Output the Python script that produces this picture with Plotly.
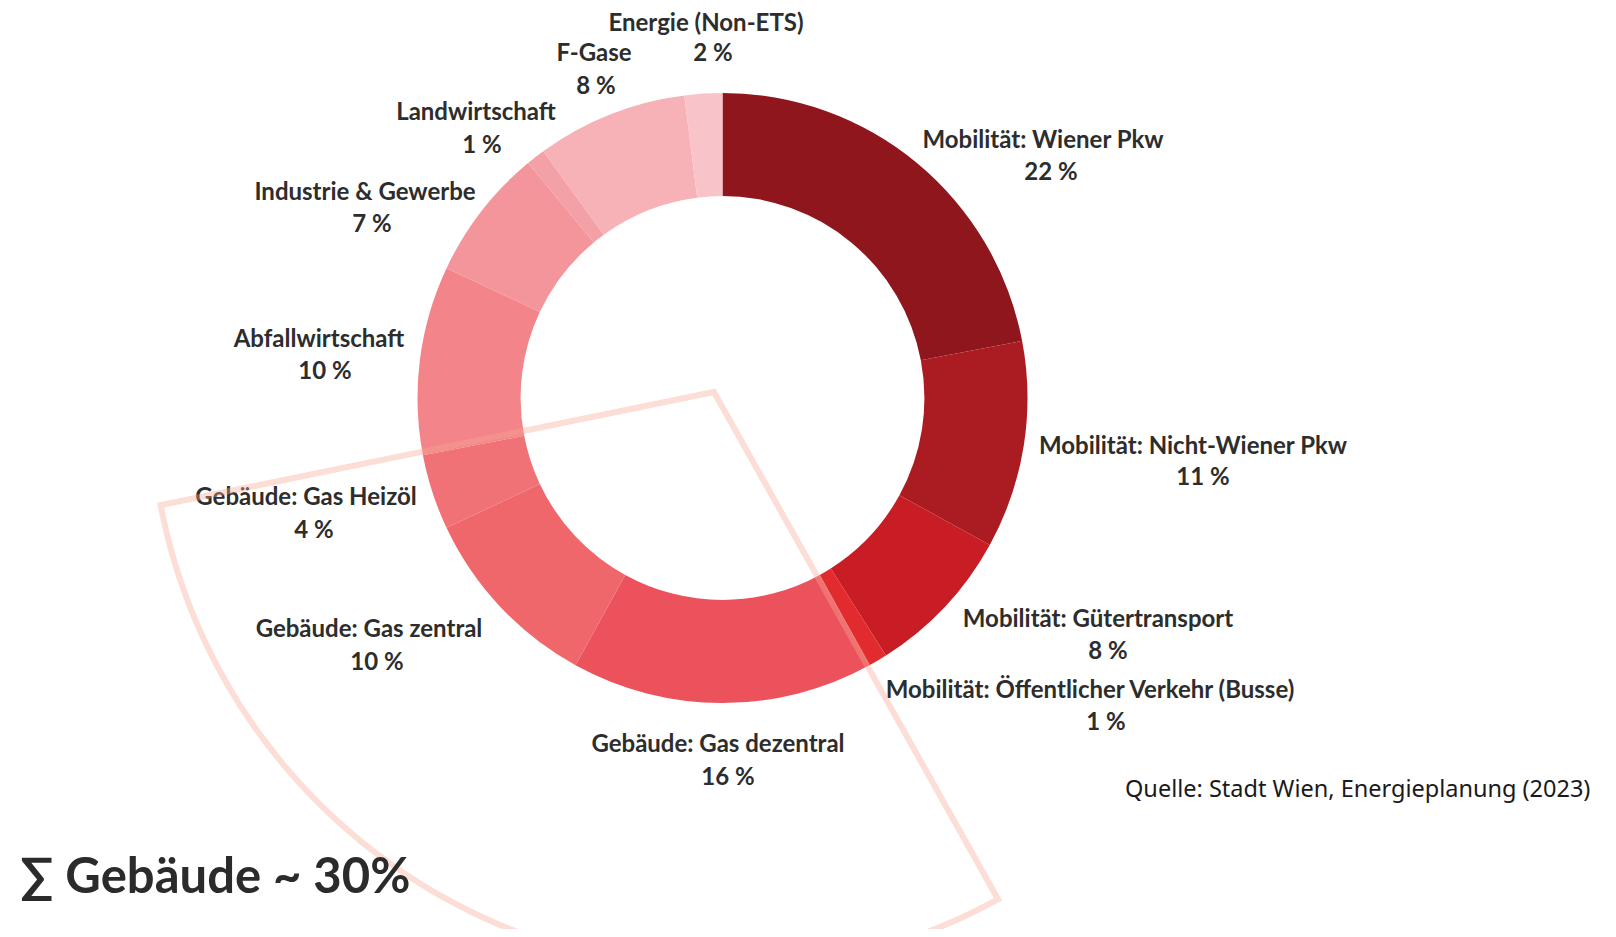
import numpy as np
import plotly.graph_objects as go

# ---------------- data ----------------
categories = [
    "Mobilität: Wiener Pkw",
    "Mobilität: Nicht-Wiener Pkw",
    "Mobilität: Gütertransport",
    "Mobilität: Öffentlicher Verkehr (Busse)",
    "Gebäude: Gas dezentral",
    "Gebäude: Gas zentral",
    "Gebäude: Gas Heizöl",
    "Abfallwirtschaft",
    "Industrie & Gewerbe",
    "Landwirtschaft",
    "F-Gase",
    "Energie (Non-ETS)",
]
shares = [22, 11, 8, 1, 16, 10, 4, 10, 7, 1, 8, 2]
pct_labels = [f"{v} %" for v in shares]

# ---------------- styling / layout ----------------
PAGE_W, PAGE_H = 1616, 937
OFF = 8  # default body margin of the html page
W, H = PAGE_W - 2 * OFF, PAGE_H - 2 * OFF
colors = [
    "#8E161C", "#AB1C22", "#C81D25", "#E22B2E",
    "#EC525C", "#EF666B", "#F07176", "#F2848A",
    "#F3959A", "#F3A1A6", "#F6B2B7", "#F8C4C9",
]
# label placement (page pixels)
name_x = [1043, 1193, 1098, 1090, 718, 369, 306, 319, 365, 476, 594, 706]
name_y = [142, 448, 621, 692, 746, 631, 499, 341, 194, 114, 55, 25]
pct_x = [1051, 1203, 1108, 1106, 728, 377, 314, 325, 372, 482, 596, 713]
pct_y = [174, 479, 653, 724, 779, 664, 532, 373, 226, 147, 88, 55]

cx, cy, R = 722.5, 398.0, 305.0
HOLE = 0.662

fig = go.Figure()

fig.add_trace(go.Pie(
    labels=categories,
    values=shares,
    sort=False,
    direction="clockwise",
    rotation=0,
    hole=HOLE,
    marker=dict(colors=colors, line=dict(width=0)),
    textinfo="none",
    hoverinfo="skip",
    showlegend=False,
    domain=dict(
        x=[(cx - R - OFF) / W, (cx + R - OFF) / W],
        y=[1 - (cy + R - OFF) / H, 1 - (cy - R - OFF) / H],
    ),
))

label_font = dict(family="Lato", size=24, color="#2d2d2d", weight="bold")
fig.add_trace(go.Scatter(
    x=name_x, y=name_y, text=categories, mode="text",
    textposition="middle center", textfont=label_font, cliponaxis=False,
    hoverinfo="skip", showlegend=False,
))
fig.add_trace(go.Scatter(
    x=pct_x, y=pct_y, text=pct_labels, mode="text",
    textposition="middle center", textfont=label_font, cliponaxis=False,
    hoverinfo="skip", showlegend=False,
))

# highlighted Gebäude sector (outline)
geb_idx = [i for i, c in enumerate(categories) if c.startswith("Gebäude")]
start_share = sum(shares[:geb_idx[0]])
geb_total = sum(shares[i] for i in geb_idx)
a0 = np.deg2rad(start_share / sum(shares) * 360)
a1 = np.deg2rad((start_share + geb_total) / sum(shares) * 360)
ax_, ay_ = 714.0, 392.0
RW = 572.0
angles = np.linspace(a0, a1, 90)
pts = [(cx + RW * np.sin(a), cy - RW * np.cos(a)) for a in angles]
path = f"M {ax_},{ay_} " + " ".join(f"L {x:.2f},{y:.2f}" for x, y in pts) + " Z"
fig.add_shape(
    type="path", path=path, xref="x", yref="y", layer="above",
    line=dict(color="rgba(246,168,148,0.38)", width=6),
    fillcolor="rgba(0,0,0,0)",
)

fig.add_annotation(
    x=18, y=874, xref="x", yref="y", xanchor="left", yanchor="middle",
    text=f"∑ Gebäude ~ {geb_total}%", showarrow=False,
    font=dict(family="Lato", size=49, color="#2b2b2b", weight="bold"),
)
fig.add_annotation(
    x=1592, y=788, xref="x", yref="y", xanchor="right", yanchor="middle",
    text="Quelle: Stadt Wien, Energieplanung (2023)", showarrow=False,
    font=dict(family="Noto Sans", size=23.5, color="#1a1a1a"),
)

fig.update_layout(
    width=W, height=H,
    margin=dict(l=0, r=0, t=0, b=0),
    paper_bgcolor="white", plot_bgcolor="rgba(0,0,0,0)",
    xaxis=dict(range=[OFF, OFF + W], visible=False, fixedrange=True, domain=[0, 1]),
    yaxis=dict(range=[OFF + H, OFF], visible=False, fixedrange=True, domain=[0, 1]),
    showlegend=False,
)

fig.write_html("out.html")
